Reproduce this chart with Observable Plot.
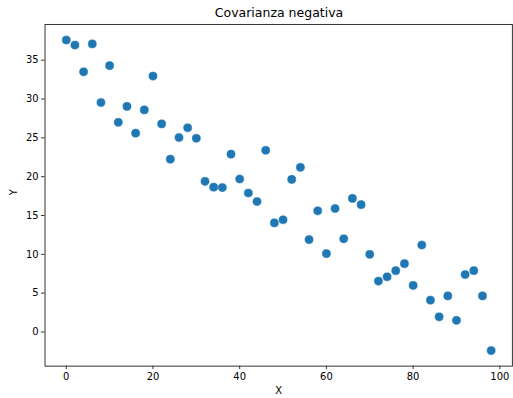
<!DOCTYPE html>
<html>
<head>
<meta charset="utf-8">
<script src="https://cdn.jsdelivr.net/npm/d3@7"></script>
<script src="https://cdn.jsdelivr.net/npm/@observablehq/plot@0.6"></script>
<style>
  html, body { margin: 0; padding: 0; background: #fff; }
  #wrap { position: relative; width: 513px; height: 398px; overflow: hidden; font-family: "DejaVu Sans", sans-serif; }
  #title { position: absolute; top: 0; left: 0; width: 558px; height: 20px; text-align: center; font-size: 12.5px; line-height: 26px; color: #000; }
  #chart { position: absolute; top: 20px; left: 0; }
</style>
</head>
<body>
<div id="wrap">
  <div id="title">Covarianza negativa</div>
  <div id="chart"></div>
</div>
<script>
const title = "Covarianza negativa";
const xLabel = "X";
const yLabel = "Y";
const xValues = [0,2,4,6,8,10,12,14,16,18,20,22,24,26,28,30,32,34,36,38,40,42,44,46,48,50,52,54,56,58,60,62,64,66,68,70,72,74,76,78,80,82,84,86,88,90,92,94,96,98];
const yValues = [37.6,36.95,33.5,37.1,29.55,34.3,27.0,29.05,25.6,28.6,32.95,26.8,22.25,25.05,26.3,24.95,19.4,18.65,18.6,22.9,19.7,17.9,16.8,23.4,14.05,14.45,19.65,21.2,11.9,15.6,10.1,15.9,12.0,17.2,16.4,10.0,6.55,7.1,7.9,8.8,6.0,11.2,4.1,1.95,4.65,1.5,7.4,7.9,4.65,-2.4];
const xTicks = [0,20,40,60,80,100];
const yTicks = [0,5,10,15,20,25,30,35];

document.getElementById("title").textContent = title;
const data = xValues.map((x, i) => ({x, y: yValues[i]}));

const chart = Plot.plot({
  width: 515,
  height: 378,
  marginLeft: 44.7,
  marginRight: 1.1,
  marginTop: 4,
  marginBottom: 31,
  style: {fontFamily: "DejaVu Sans, sans-serif", fontSize: "10px", color: "#000", background: "#fff"},
  x: {domain: [-4.9, 102.9], label: null},
  y: {domain: [-4.4, 39.6], label: null},
  marks: [
    Plot.axisX({ticks: xTicks, tickSize: 3.5, tickPadding: 3, fontSize: 10, stroke: "#333", label: null}),
    Plot.axisY({ticks: yTicks, tickSize: 3.5, tickPadding: 3, fontSize: 10, stroke: "#333", label: null}),
    Plot.frame({stroke: "#333", strokeWidth: 1}),
    Plot.dot(data, {x: "x", y: "y", r: 4.1, fill: "#1f77b4", stroke: "#1f77b4", strokeWidth: 0.5}),
    Plot.text([xLabel], {frameAnchor: "bottom", dy: 25, fontSize: 10, fill: "#000", lineAnchor: "middle"}),
    Plot.text([yLabel], {frameAnchor: "left", dx: -31, rotate: -90, fontSize: 10, fill: "#000", lineAnchor: "middle"})
  ]
});
document.getElementById("chart").appendChild(chart);
</script>
</body>
</html>
